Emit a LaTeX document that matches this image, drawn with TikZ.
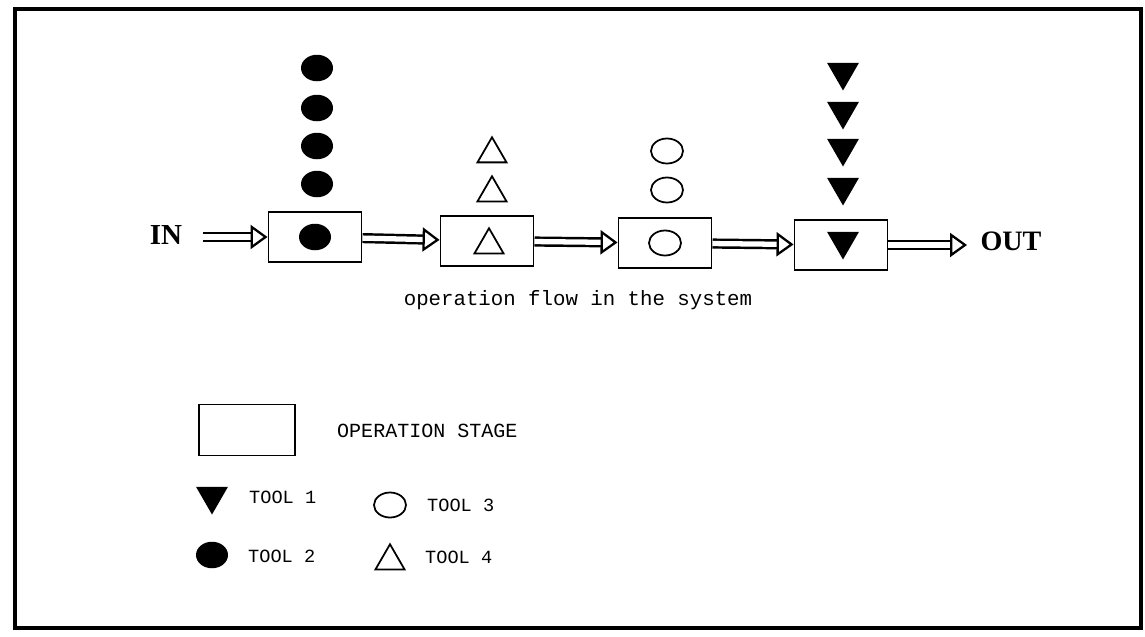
\documentclass[tikz,border=0pt]{standalone}
\usepackage{fontspec}
\setmainfont{Liberation Serif}
\setmonofont{Liberation Mono}
\usetikzlibrary{shapes.geometric,arrows.meta}

\tikzset{
    stage/.style={draw, line width=1.1pt, minimum width=1.86cm, minimum height=1cm, inner sep=0pt},
    toolone/.style={regular polygon, regular polygon sides=3, shape border rotate=180, fill, minimum size=0.74cm, inner sep=0pt},
    tooltwo/.style={ellipse, fill, minimum width=0.64cm, minimum height=0.53cm, inner sep=0pt},
    toolthree/.style={ellipse, draw, line width=1pt, minimum width=0.64cm, minimum height=0.5cm, inner sep=0pt},
    toolfour/.style={regular polygon, regular polygon sides=3, draw, line width=1pt, minimum size=0.67cm, inner sep=0pt},
    flow/.style={double, line width=1.4pt, double distance=3pt, -{Triangle[open, length=0.34cm, width=0.48cm, line width=1.3pt]}},
    caption/.style={font=\ttfamily\fontsize{11.8}{13}\selectfont},
    legendtxt/.style={font=\ttfamily\fontsize{10.6}{12}\selectfont, anchor=west}
}

\begin{document}
\begin{tikzpicture}[x=0.02cm, y=-0.02cm]
    \useasboundingbox (0,0) rectangle (1145,636);

    % Frame
    \draw[line width=1.9pt] (15,9) rectangle (1141,628);

    % Operation stages
    \node[stage] (s1) at (315,237) {};
    \node[stage] (s2) at (487,241) {};
    \node[stage] (s3) at (665,243) {};
    \node[stage] (s4) at (841,245) {};

    % Tools waiting at each stage
    \node[tooltwo] (a1) at (317,68) {};
    \node[tooltwo] (a2) at (317,108) {};
    \node[tooltwo] (a3) at (317,146) {};
    \node[tooltwo] (a4) at (317,184) {};
    \node[tooltwo] (a5) at (s1) {};

    \node[toolfour] (b1) at (492,154) {};
    \node[toolfour] (b2) at (492,193) {};
    \node[toolfour] (b3) at (489,245) {};

    \node[toolthree] (c1) at (667,151) {};
    \node[toolthree] (c2) at (667,190) {};
    \node[toolthree] (c3) at (s3) {};

    \node[toolone] (d1) at (843,72) {};
    \node[toolone] (d2) at (843,111) {};
    \node[toolone] (d3) at (843,148) {};
    \node[toolone] (d4) at (843,187) {};
    \node[toolone] (d5) at (843,241) {};

    % Flow
    \node[font=\bfseries\fontsize{16.5}{18}\selectfont] (in) at (166,235) {IN};
    \node[font=\bfseries\fontsize{16}{18}\selectfont] (out) at (1011,241) {OUT};
    \coordinate (inA) at (203,237);
    \coordinate (outA) at (967,245);

    \draw[flow] (inA) -- (s1);
    \draw[flow] (s1) -- (s2);
    \draw[flow] (s2) -- (s3);
    \draw[flow] (s3) -- (s4);
    \draw[flow] (s4) -- (outA);

    \node[caption] (cap) at (578,300) {operation flow in the system};

    % Legend
    \node[stage, minimum width=1.92cm, minimum height=1.02cm] (ls) at (247,430) {};
    \node[legendtxt, font=\ttfamily\fontsize{11.4}{12}\selectfont] (lst) at (331,431) {OPERATION STAGE};

    \node[toolone] (l1) at (212,496) {};
    \node[legendtxt] (l1t) at (243,497) {TOOL 1};
    \node[tooltwo] (l2) at (212,555) {};
    \node[legendtxt] (l2t) at (242,556) {TOOL 2};
    \node[toolthree] (l3) at (390,505) {};
    \node[legendtxt] (l3t) at (421,505) {TOOL 3};
    \node[toolfour] (l4) at (390,561) {};
    \node[legendtxt] (l4t) at (419,557) {TOOL 4};
\end{tikzpicture}
\end{document}
